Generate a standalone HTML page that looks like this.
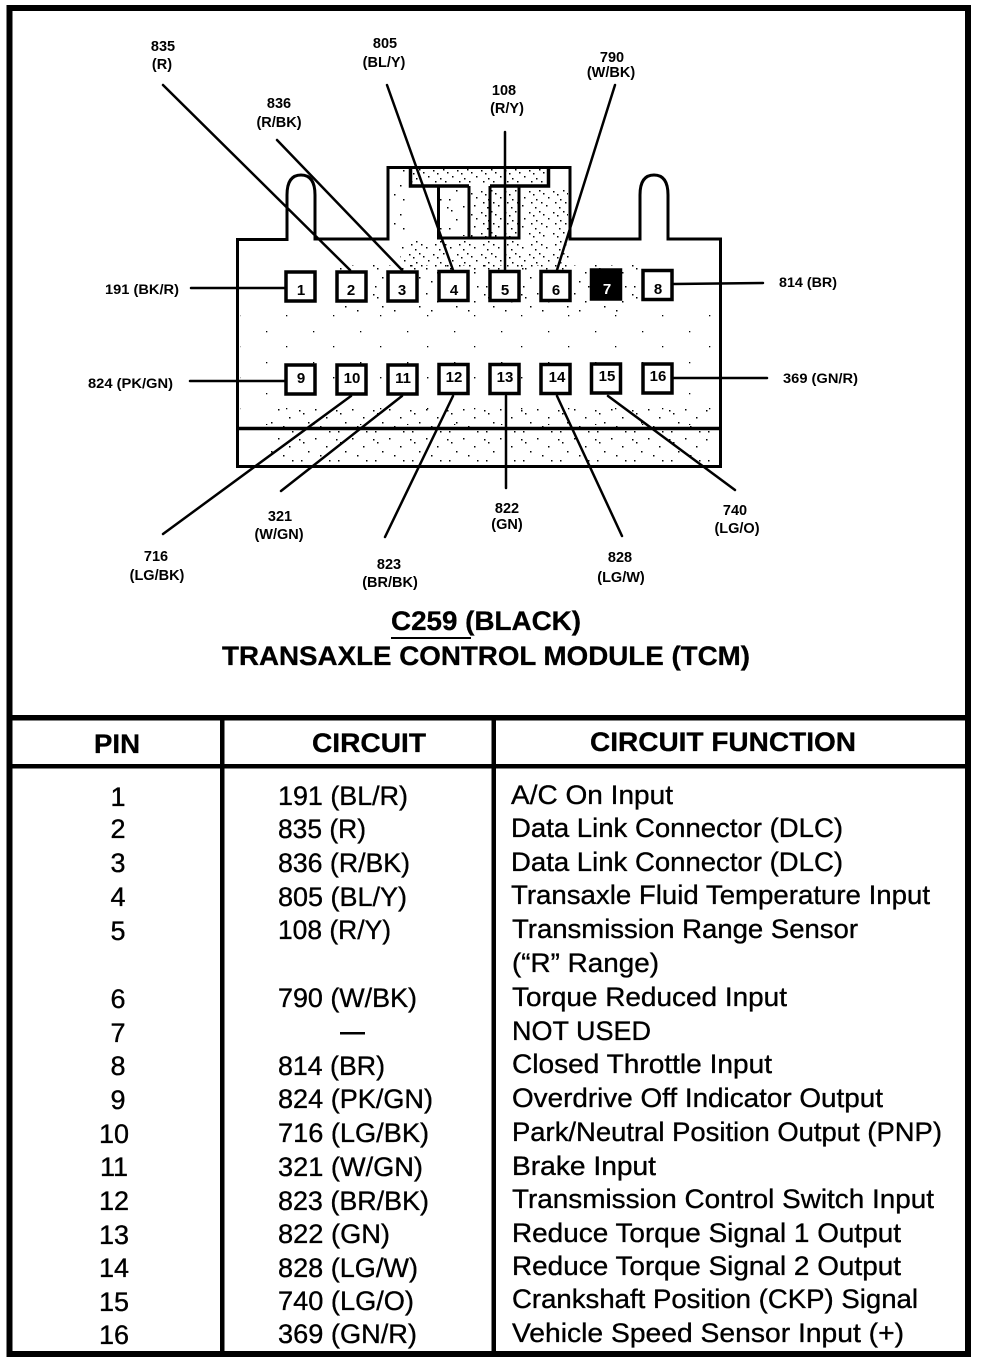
<!DOCTYPE html>
<html><head><meta charset="utf-8"><style>
html,body{margin:0;padding:0;background:#fff}
svg{display:block}
text{font-family:"Liberation Sans",sans-serif;fill:#000}
.l{font-size:14.5px;font-weight:bold;text-anchor:middle}
.s{font-size:13.5px;font-weight:bold}
.n{font-size:15px;font-weight:bold;text-anchor:middle}
.t{font-size:27px;font-weight:bold;stroke:#000;stroke-width:.3px}
.b{font-size:27px;stroke:#000;stroke-width:.35px}
.p{text-anchor:middle}
</style></head><body>
<svg width="992" height="1362" viewBox="0 0 992 1362" xmlns="http://www.w3.org/2000/svg">
<defs>
<pattern id="d" width="24" height="21" patternUnits="userSpaceOnUse">
<rect x="1" y="2" width="1.5" height="1.5"/><rect x="5" y="5" width="1.500" height="1.500"/><rect x="11" y="1" width="1.500" height="1.500"/><rect x="15" y="4" width="1.500" height="1.500"/><rect x="20" y="8" width="1.500" height="1.500"/><rect x="8" y="10" width="1.500" height="1.500"/><rect x="3" y="13" width="1.500" height="1.500"/><rect x="13" y="13" width="1.500" height="1.500"/><rect x="18" y="16" width="1.500" height="1.500"/><rect x="7" y="18" width="1.500" height="1.500"/>
</pattern>
<pattern id="m" width="37" height="29" patternUnits="userSpaceOnUse">
<rect x="3" y="4" width="1.500" height="1.500"/><rect x="7" y="7" width="1.500" height="1.500"/><rect x="19" y="3" width="1.500" height="1.500"/><rect x="30" y="11" width="1.500" height="1.500"/><rect x="12" y="16" width="1.500" height="1.500"/><rect x="24" y="20" width="1.500" height="1.500"/><rect x="33" y="25" width="1.500" height="1.500"/><rect x="5" y="25" width="1.500" height="1.500"/>
</pattern>
<pattern id="e" width="47" height="31" patternUnits="userSpaceOnUse">
<rect x="4" y="5" width="1.300" height="1.300"/><rect x="31" y="21" width="1.300" height="1.300"/>
</pattern>
</defs>
<rect width="992" height="1362" fill="#fff"/>
<!-- frame -->
<rect x="9.5" y="8" width="958.5" height="1346" fill="none" stroke="#000" stroke-width="6"/>
<rect x="10" y="715" width="960" height="5.5"/>
<rect x="10" y="764" width="960" height="4.5"/>
<rect x="220" y="717" width="4.5" height="636"/>
<rect x="491.5" y="717" width="4.5" height="636"/>
<!-- stipple -->
<path d="M412 169H547V184H412Z" fill="url(#d)"/>
<path d="M470 188H568V238H470Z" fill="url(#d)"/>
<path d="M440 188H467V236H440Z" fill="url(#m)"/>
<path d="M392 170H408V238H392Z" fill="url(#m)"/>
<path d="M400 241H570V270H400Z" fill="url(#d)"/>
<path d="M340 265H640V312H340Z" fill="url(#m)"/>
<path d="M290 190H313V262H290Z" fill="url(#e)"/>
<path d="M240 312H718V425H240Z" fill="url(#e)"/>
<path d="M320 350H640V400H320Z" fill="url(#e)"/>
<path d="M270 405H710V464H270Z" fill="url(#m)"/>
<!-- connector -->
<path d="M237.500 466.500V239.500H287V195Q287 175 301 175Q315 175 315 195V239H388V167.500H570V239H640V195Q640 175 654 175Q668 175 668 195V239H720.500V466.500Z" fill="none" stroke="#000" stroke-width="3"/>
<path d="M237 428.500H721" stroke="#000" stroke-width="3.500"/>
<path d="M410.500 167V186H469M490 186H548.500V167" fill="none" stroke="#000" stroke-width="3.500"/>
<path d="M438.500 186V238H519V186M469 186V238M490 186V238" fill="none" stroke="#000" stroke-width="3"/>
<!-- leaders -->
<g stroke="#000" stroke-width="2.500" fill="none" stroke-linecap="round">
<path d="M163 85L350 270"/><path d="M277 140L402 270"/><path d="M387 85L453 270"/>
<path d="M505 132V270"/><path d="M615 85L557 270"/>
<path d="M191 288H285"/><path d="M673 284L763 283"/><path d="M190 381H285"/><path d="M673 378H767"/>
<path d="M351 396L163 534"/><path d="M402 396L281 491"/><path d="M453 396L385 537"/>
<path d="M506 396V488"/><path d="M557 396L622 536"/><path d="M608 396L735 490"/>
</g>
<!-- pins -->
<g fill="#fff" stroke="#000" stroke-width="3.500">
<rect x="286" y="272" width="29" height="29"/><rect x="337" y="272" width="29" height="29"/><rect x="388" y="272" width="29" height="29"/><rect x="439" y="271.500" width="29" height="29"/><rect x="490" y="271.500" width="29" height="29"/><rect x="541" y="271.500" width="29" height="29"/><rect x="591.500" y="270" width="29" height="29" fill="#000"/><rect x="643" y="270.500" width="29" height="29"/>
<rect x="286" y="365" width="29" height="29"/><rect x="337" y="365" width="29" height="29"/><rect x="388" y="365" width="29" height="29"/><rect x="439" y="364.500" width="29" height="29"/><rect x="490" y="364.500" width="29" height="29"/><rect x="541" y="364.500" width="29" height="29"/><rect x="591.500" y="364" width="29" height="29"/><rect x="643" y="364" width="29" height="29"/>
</g>
<g>
<text class="n" x="301" y="295">1</text><text class="n" x="351" y="295">2</text><text class="n" x="402" y="295">3</text><text class="n" x="454" y="295">4</text><text class="n" x="505" y="295">5</text><text class="n" x="556" y="295">6</text><text class="n" x="607" y="294" style="fill:#fff">7</text><text class="n" x="658" y="294">8</text>
<text class="n" x="301" y="383">9</text><text class="n" x="352" y="383">10</text><text class="n" x="403" y="383">11</text><text class="n" x="454" y="382">12</text><text class="n" x="505" y="382">13</text><text class="n" x="557" y="382">14</text><text class="n" x="607" y="381">15</text><text class="n" x="658" y="381">16</text>
</g>
<!-- labels -->
<text class="l" x="163" y="51">835</text><text class="l" x="162" y="69">(R)</text>
<text class="l" x="279" y="108">836</text><text class="l" x="279" y="127">(R/BK)</text>
<text class="l" x="385" y="48">805</text><text class="l" x="384" y="67">(BL/Y)</text>
<text class="l" x="504" y="95">108</text><text class="l" x="507" y="113">(R/Y)</text>
<text class="l" x="612" y="62">790</text><text class="l" x="611" y="77">(W/BK)</text>
<text class="s" x="105" y="294" textLength="74" lengthAdjust="spacingAndGlyphs">191 (BK/R)</text>
<text class="s" x="779" y="287" textLength="58" lengthAdjust="spacingAndGlyphs">814 (BR)</text>
<text class="s" x="88" y="388" textLength="85" lengthAdjust="spacingAndGlyphs">824 (PK/GN)</text>
<text class="s" x="783" y="383" textLength="75" lengthAdjust="spacingAndGlyphs">369 (GN/R)</text>
<text class="l" x="280" y="521">321</text><text class="l" x="279" y="539">(W/GN)</text>
<text class="l" x="156" y="561">716</text><text class="l" x="157" y="580">(LG/BK)</text>
<text class="l" x="389" y="569">823</text><text class="l" x="390" y="587">(BR/BK)</text>
<text class="l" x="507" y="513">822</text><text class="l" x="507" y="529">(GN)</text>
<text class="l" x="620" y="562">828</text><text class="l" x="621" y="582">(LG/W)</text>
<text class="l" x="735" y="515">740</text><text class="l" x="737" y="533">(LG/O)</text>
<!-- title -->
<text class="t" x="391" y="630" textLength="190" lengthAdjust="spacingAndGlyphs">C259 (BLACK)</text>
<rect x="391" y="637" width="80" height="2"/>
<text class="t" x="222" y="665" textLength="528" lengthAdjust="spacingAndGlyphs">TRANSAXLE CONTROL MODULE (TCM)</text>
<!-- header -->
<text class="t" x="94" y="753" textLength="46" lengthAdjust="spacingAndGlyphs">PIN</text>
<text class="t" x="312" y="752" textLength="114" lengthAdjust="spacingAndGlyphs">CIRCUIT</text>
<text class="t" x="590" y="751" textLength="266" lengthAdjust="spacingAndGlyphs">CIRCUIT FUNCTION</text>
<!-- pin column -->
<g>
<text class="b p" x="118" y="806">1</text><text class="b p" x="118" y="838">2</text><text class="b p" x="118" y="872">3</text><text class="b p" x="118" y="906">4</text><text class="b p" x="118" y="940">5</text><text class="b p" x="118" y="1008">6</text><text class="b p" x="118" y="1042">7</text><text class="b p" x="118" y="1075">8</text><text class="b p" x="118" y="1109">9</text><text class="b p" x="114" y="1143">10</text><text class="b p" x="114" y="1176">11</text><text class="b p" x="114" y="1210">12</text><text class="b p" x="114" y="1244">13</text><text class="b p" x="114" y="1277">14</text><text class="b p" x="114" y="1311">15</text><text class="b p" x="114" y="1344">16</text>
</g>
<!-- circuit column -->
<text class="b" x="278" y="805" textLength="130" lengthAdjust="spacingAndGlyphs">191 (BL/R)</text>
<text class="b" x="278" y="838" textLength="88" lengthAdjust="spacingAndGlyphs">835 (R)</text>
<text class="b" x="278" y="872" textLength="132" lengthAdjust="spacingAndGlyphs">836 (R/BK)</text>
<text class="b" x="278" y="906" textLength="129" lengthAdjust="spacingAndGlyphs">805 (BL/Y)</text>
<text class="b" x="278" y="939" textLength="113" lengthAdjust="spacingAndGlyphs">108 (R/Y)</text>
<text class="b" x="278" y="1007" textLength="139" lengthAdjust="spacingAndGlyphs">790 (W/BK)</text>
<rect x="340" y="1032" width="25" height="2.500"/>
<text class="b" x="278" y="1075" textLength="107" lengthAdjust="spacingAndGlyphs">814 (BR)</text>
<text class="b" x="278" y="1108" textLength="155" lengthAdjust="spacingAndGlyphs">824 (PK/GN)</text>
<text class="b" x="278" y="1142" textLength="151" lengthAdjust="spacingAndGlyphs">716 (LG/BK)</text>
<text class="b" x="278" y="1176" textLength="145" lengthAdjust="spacingAndGlyphs">321 (W/GN)</text>
<text class="b" x="278" y="1210" textLength="151" lengthAdjust="spacingAndGlyphs">823 (BR/BK)</text>
<text class="b" x="278" y="1243" textLength="112" lengthAdjust="spacingAndGlyphs">822 (GN)</text>
<text class="b" x="278" y="1277" textLength="140" lengthAdjust="spacingAndGlyphs">828 (LG/W)</text>
<text class="b" x="278" y="1310" textLength="136" lengthAdjust="spacingAndGlyphs">740 (LG/O)</text>
<text class="b" x="278" y="1343" textLength="139" lengthAdjust="spacingAndGlyphs">369 (GN/R)</text>
<!-- function column -->
<text class="b" x="511" y="804" textLength="162" lengthAdjust="spacingAndGlyphs">A/C On Input</text>
<text class="b" x="511" y="837" textLength="332" lengthAdjust="spacingAndGlyphs">Data Link Connector (DLC)</text>
<text class="b" x="511" y="871" textLength="332" lengthAdjust="spacingAndGlyphs">Data Link Connector (DLC)</text>
<text class="b" x="511" y="904" textLength="419" lengthAdjust="spacingAndGlyphs">Transaxle Fluid Temperature Input</text>
<text class="b" x="512" y="938" textLength="346" lengthAdjust="spacingAndGlyphs">Transmission Range Sensor</text>
<text class="b" x="512" y="972" textLength="147" lengthAdjust="spacingAndGlyphs">(“R” Range)</text>
<text class="b" x="512" y="1006" textLength="275" lengthAdjust="spacingAndGlyphs">Torque Reduced Input</text>
<text class="b" x="512" y="1040" textLength="139" lengthAdjust="spacingAndGlyphs">NOT USED</text>
<text class="b" x="512" y="1073" textLength="260" lengthAdjust="spacingAndGlyphs">Closed Throttle Input</text>
<text class="b" x="512" y="1107" textLength="371" lengthAdjust="spacingAndGlyphs">Overdrive Off Indicator Output</text>
<text class="b" x="512" y="1141" textLength="430" lengthAdjust="spacingAndGlyphs">Park/Neutral Position Output (PNP)</text>
<text class="b" x="512" y="1175" textLength="144" lengthAdjust="spacingAndGlyphs">Brake Input</text>
<text class="b" x="512" y="1208" textLength="422" lengthAdjust="spacingAndGlyphs">Transmission Control Switch Input</text>
<text class="b" x="512" y="1242" textLength="389" lengthAdjust="spacingAndGlyphs">Reduce Torque Signal 1 Output</text>
<text class="b" x="512" y="1275" textLength="389" lengthAdjust="spacingAndGlyphs">Reduce Torque Signal 2 Output</text>
<text class="b" x="512" y="1308" textLength="406" lengthAdjust="spacingAndGlyphs">Crankshaft Position (CKP) Signal</text>
<text class="b" x="512" y="1342" textLength="392" lengthAdjust="spacingAndGlyphs">Vehicle Speed Sensor Input (+)</text>
</svg>
</body></html>
